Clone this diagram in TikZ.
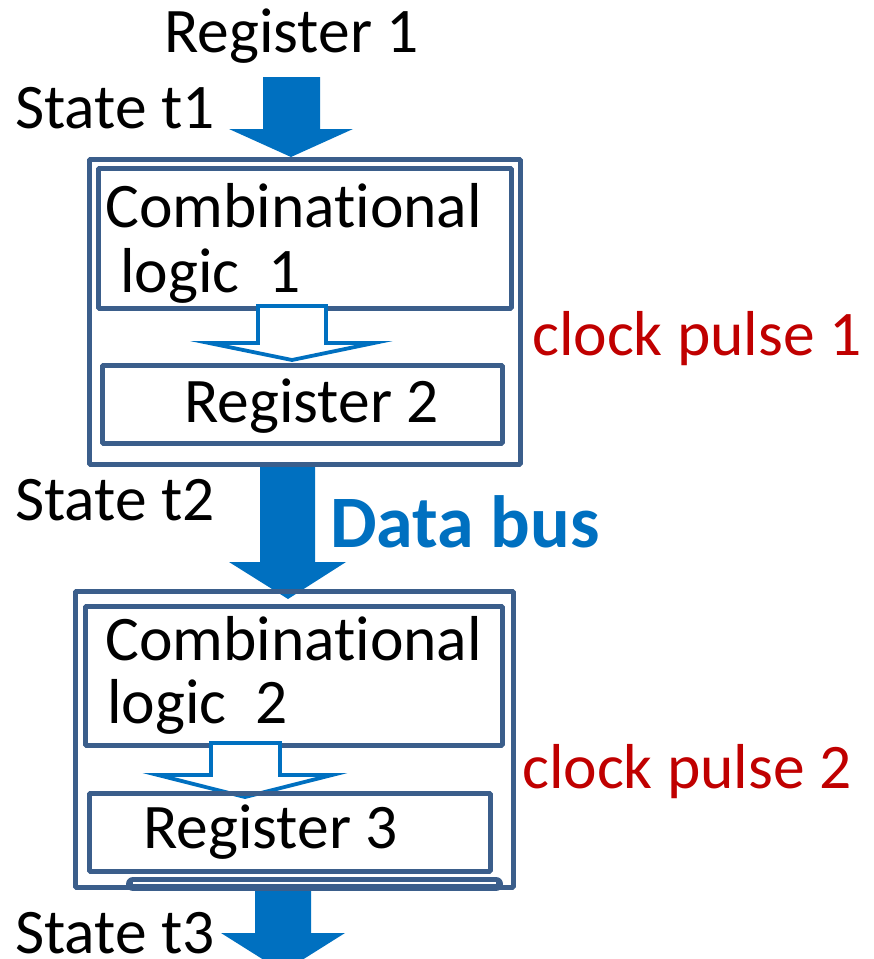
\documentclass[tikz,border=0pt]{standalone}
\usepackage{fontspec}
\setmainfont{Carlito}[Ligatures=NoCommon]
\definecolor{boxc}{HTML}{3B5E8B}
\definecolor{busc}{HTML}{0070C0}
\definecolor{redc}{HTML}{C00000}
\begin{document}
\begin{tikzpicture}[x=1pt,y=-1pt,
 lbl/.style={inner sep=0pt, anchor=base west, font=\fontsize{63.5}{70}\selectfont},
 frame/.style={draw=boxc, line width=4.8pt, inner sep=0pt, anchor=north west, rounded corners=1pt},
 bus/.style={fill=busc, draw=none},
 hollow/.style={draw=busc, fill=white, line width=3.8pt, line join=miter}]
\useasboundingbox (0,0) rectangle (874,959);
\clip (0,0) rectangle (874,959);

% labels
\node[lbl] (r1) at (164,52) {Register 1};
\node[lbl] (s1) at (15,128) {State t1};
\node[lbl] (s2) at (15,520) {State t2};
\node[lbl] (s3) at (15,953) {State t3};
\node[lbl, text=busc, font=\fontsize{74}{80}\selectfont\bfseries] (db) at (330,547) {Data bus};
\node[lbl, text=redc] (cp1) at (532,355) {clock pulse 1};
\node[lbl, text=redc] (cp2) at (522,788) {clock pulse 2};

% top arrow (Register 1 -> stage 1)
\fill[bus] (263,77) -- (320,77) -- (320,129) -- (353,129) -- (291,157) -- (229,129) -- (263,129) -- cycle;
% data bus arrow (stage 1 -> stage 2)
\fill[bus] (260,462) -- (315,462) -- (315,562) -- (346,562) -- (288,599) -- (229,562) -- (260,562) -- cycle;
% bottom arrow (stage 2 -> state t3)
\fill[bus] (255,888) -- (311,888) -- (311,933) -- (345,933) -- (283,972) -- (221,933) -- (255,933) -- cycle;

% stage 1
\node[frame, minimum width=431pt, minimum height=305pt] (o1) at (87,157) {};
\node[frame, minimum width=413pt, minimum height=140pt] (c1) at (96,166) {};
\node[lbl] (c1t) at (105,227) {Combinational};
\node[lbl] (c1l) at (120,292) {logic\ \ 1};
\filldraw[hollow] (258,306) -- (326,306) -- (326,343) -- (374,343) -- (292,360) -- (209,343) -- (258,343) -- cycle;
\node[frame, minimum width=400pt, minimum height=78pt] (r2) at (100,363) {};
\node[lbl] (r2t) at (184,422) {Register 2};

% stage 2
\node[frame, minimum width=438pt, minimum height=296pt] (o2) at (73,589) {};
\node[frame, minimum width=417pt, minimum height=139pt] (c2) at (83,604) {};
\node[lbl] (c2t) at (105,660) {Combinational};
\node[lbl] (c2l) at (107,723) {logic\ \ 2};
\filldraw[hollow] (211,743) -- (280,743) -- (280,775) -- (332,775) -- (245,797) -- (158,775) -- (211,775) -- cycle;
\node[frame, minimum width=401pt, minimum height=78pt] (r3) at (87,791) {};
\node[lbl] (r3t) at (143,848) {Register 3};

% double line at bottom of stage 2
\draw[boxc, line width=14pt, line cap=round] (133,884) -- (496,884);
\draw[white, line width=1.2pt] (133,883) -- (496,883);
\end{tikzpicture}
\end{document}
